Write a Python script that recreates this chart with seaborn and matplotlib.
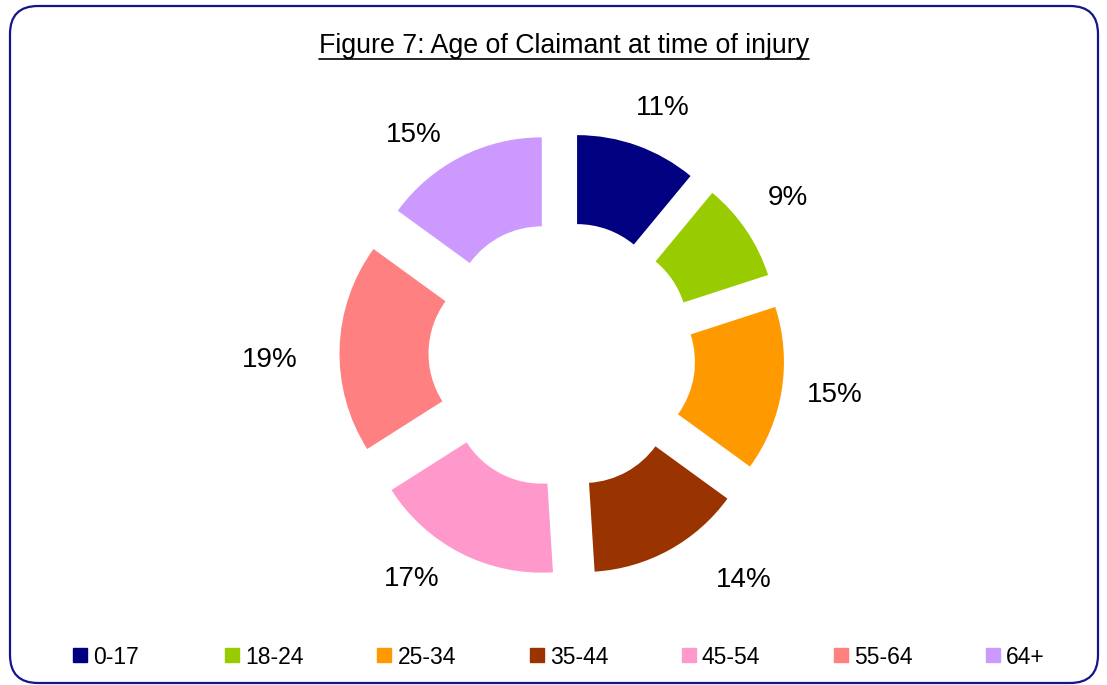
import matplotlib
matplotlib.use("Agg")
import numpy as np
import matplotlib.pyplot as plt
import seaborn as sns
from matplotlib.patches import FancyBboxPatch
from matplotlib.lines import Line2D

categories = ["0-17", "18-24", "25-34", "35-44", "45-54", "55-64", "64+"]
values = [11, 9, 15, 14, 17, 19, 15]
colors = ["#000080", "#99CC00", "#FF9900", "#993300", "#FF99CC", "#FF8080", "#CC99FF"]
title = "Figure 7: Age of Claimant at time of injury"

sns.set_theme(style="white")
plt.rcParams["font.family"] = ["Liberation Sans", "DejaVu Sans"]
plt.rcParams["text.color"] = "black"
palette = sns.color_palette(colors)

W, H = 1107, 685
fig = plt.figure(figsize=(W / 100, H / 100), dpi=100)
fig.patch.set_facecolor("white")

# rounded border
border = FancyBboxPatch((0.10, 0.02), 10.88, 6.77,
                        boxstyle="round,pad=0,rounding_size=0.28",
                        transform=fig.dpi_scale_trans, facecolor="none",
                        edgecolor="#14148C", linewidth=1.6, zorder=0)
fig.patches.append(border)

# donut axes: center (562, 355) px, radius ~178 px
r_px = 178
lim = 1.6
side = 2 * lim * r_px
cx, cy = 562, H - 355
ax = fig.add_axes([(cx - side / 2) / W, (cy - side / 2) / H, side / W, side / H])

wedges, texts, autotexts = ax.pie(
    values, colors=palette, startangle=90, counterclock=False,
    explode=[0.25] * len(values), radius=1.0,
    wedgeprops=dict(width=0.5, linewidth=0),
    autopct=lambda p: f"{p:.0f}%", pctdistance=1.3,
    textprops=dict(fontsize=20, color="black"),
)
# Excel-like label placement nudges (data units)
label_nudges = [(0.042, -0.073), (-0.011, 0.011), (0.002, 0.017),
                (0.275, 0.096), (-0.139, 0.124), (-0.095, -0.079),
                (-0.127, -0.146)]
for txt, (dx, dy) in zip(autotexts, label_nudges):
    x, y = txt.get_position()
    txt.set_position((x + dx, y + dy))

ax.set_xlim(-lim, lim)
ax.set_ylim(-lim, lim)
ax.set_aspect("equal")
ax.axis("off")

# title with underline
t = fig.text(564 / W, 1 - 53 / H, title, ha="center", va="baseline",
             fontsize=19.3, color="black")
fig.canvas.draw()
bb = t.get_window_extent()
uy = (H - 58.5) / H
fig.add_artist(Line2D([bb.x0 / W, bb.x1 / W], [uy, uy], color="black",
                      linewidth=1.2, transform=fig.transFigure))

# legend: evenly spaced entries like Excel
x_start, step, y_leg = 72, 152.2, 1 - 657 / H
for i, (cat, col) in enumerate(zip(categories, palette)):
    h = Line2D([0], [0], marker="s", linestyle="none", markersize=10.5,
               markerfacecolor=col, markeredgecolor=col)
    leg = fig.legend([h], [cat], loc="center left",
                     bbox_to_anchor=((x_start + i * step) / W, y_leg),
                     frameon=False, fontsize=16.5, labelcolor="black",
                     borderpad=0, borderaxespad=0,
                     handlelength=0.7, handletextpad=0.22)

fig.savefig("out.png", dpi=100, facecolor="white")
